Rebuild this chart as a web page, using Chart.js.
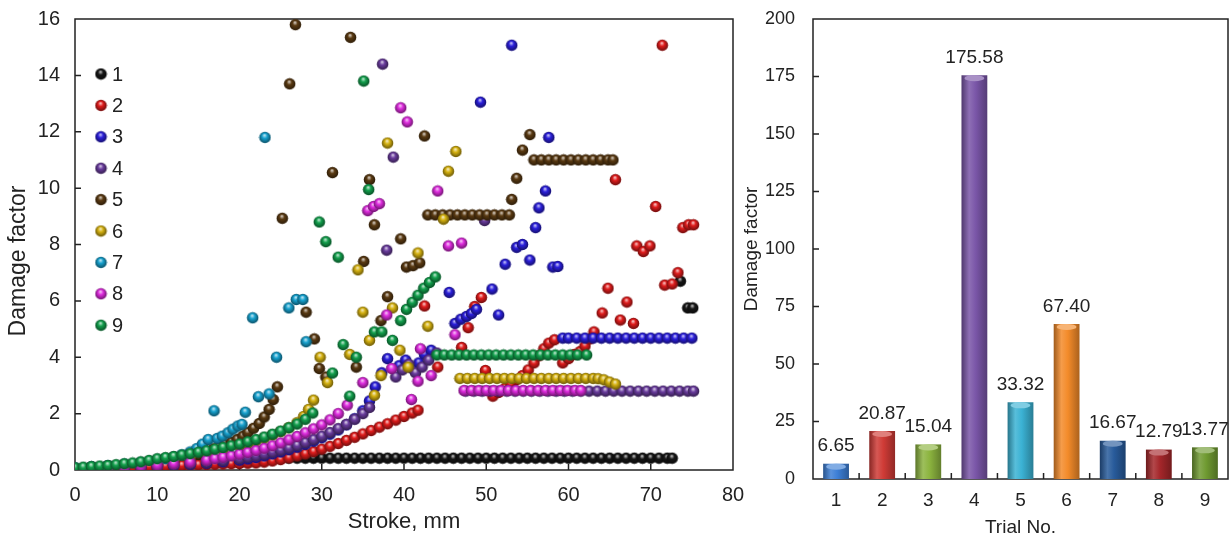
<!DOCTYPE html>
<html>
<head>
<meta charset="utf-8">
<script src="https://cdn.jsdelivr.net/npm/chart.js@4.4.0/dist/chart.umd.min.js"></script>
<style>
html, body { margin: 0; padding: 0; background: #fff; }
#wrap { position: relative; width: 1229px; height: 541px; overflow: hidden; }
#c1 { position: absolute; left: 0; top: 0; }
#c2 { position: absolute; left: 738px; top: 0; }
</style>
</head>
<body>
<div id="wrap">
  <canvas id="c1" width="760" height="541"></canvas>
  <canvas id="c2" width="491" height="541"></canvas>
</div>
<script>
// ---- left panel: damage factor vs stroke, one array per trial ----
const s1 = [
  [0,0.05],[1,0.06],[2,0.07],[3,0.08],[4,0.09],[5,0.1],[6,0.11],[7,0.12],[8,0.13],[9,0.14],
  [10,0.15],[11,0.16],[12,0.17],[13,0.18],[14,0.2],[15,0.22],[16,0.24],[17,0.26],[18,0.28],[19,0.3],
  [20,0.32],[21,0.35],[22,0.38],[23,0.41],[24,0.42],[25,0.42],[26,0.42],[27,0.42],[28,0.42],[29,0.42],
  [30,0.42],[31,0.42],[32,0.42],[33,0.42],[34,0.42],[35,0.42],[36,0.42],[37,0.42],[38,0.42],[39,0.42],
  [40,0.42],[41,0.42],[42,0.42],[43,0.42],[44,0.42],[45,0.42],[46,0.42],[47,0.42],[48,0.42],[49,0.42],
  [50,0.42],[51,0.42],[52,0.42],[53,0.42],[54,0.42],[55,0.42],[56,0.42],[57,0.42],[58,0.42],[59,0.42],
  [60,0.42],[61,0.42],[62,0.42],[63,0.42],[64,0.42],[65,0.42],[66,0.42],[67,0.42],[68,0.42],[69,0.42],
  [70,0.42],[71,0.42],[72,0.42],[72.6,0.42],
  [73.6,6.7],[74.5,5.75],[75.1,5.75]
];
const s2 = [
  [0,0.03],[1,0.04],[2,0.05],[3,0.06],[4,0.07],[5,0.08],[6,0.09],[7,0.1],[8,0.11],[9,0.12],
  [10,0.13],[11,0.14],[12,0.15],[13,0.16],[14,0.17],[15,0.18],[16,0.19],[17,0.2],[18,0.21],[19,0.22],
  [20,0.23],[21,0.24],[22,0.25],[23,0.28],[24,0.32],[25,0.37],[26,0.43],[27,0.5],[28,0.57],[29,0.65],
  [30,0.74],[31,0.84],[32,0.94],[33,1.05],[34,1.16],[35,1.28],[36,1.4],[37,1.52],[38,1.64],[39,1.77],
  [40,1.9],[41,2.02],[41.7,2.12],
  [42.5,5.82],[44.1,3.65],[47,4.35],[47.8,5.05],[48.6,5.8],[49.4,6.12],[49.9,3.53],
  [50.8,2.62],[51.5,2.75],[52.3,2.9],[53,3.05],[53.7,3.2],[54.4,3.35],[55.1,3.55],[55.8,3.8],
  [56.4,4.05],[57,4.3],[57.6,4.5],[58.3,4.62],
  [59.3,3.8],[60,3.95],[60.7,4.1],[61.4,4.2],[62,4.4],[62.6,4.65],[63.1,4.9],
  [64.1,5.57],[64.8,6.45],[65.7,10.3],[66.3,5.32],[67.1,5.96],[67.9,5.2],[68.3,7.95],[69.1,7.75],
  [69.9,7.95],[70.6,9.35],[71.4,15.07],[71.7,6.56],[72.6,6.6],[73.3,7.0],[73.9,8.6],[74.6,8.7],[75.2,8.7]
];
const s3 = [
  [0,0.03],[2,0.05],[4,0.07],[6,0.09],[8,0.11],[10,0.14],[12,0.17],[14,0.2],[16,0.24],[18,0.29],
  [20,0.35],[21,0.39],[22,0.44],[23,0.5],[24,0.57],[25,0.64],[26,0.72],[27,0.81],[28,0.91],[29,1.02],
  [30,1.14],[31,1.27],[32,1.42],[33,1.6],[34,1.82],[35,2.1],[35.8,2.45],[36.5,2.95],[37.3,3.45],[38,3.95],
  [39.4,3.7],[40.2,3.9],[41,3.6],[41.8,3.8],[42.5,4.1],[43.3,4.25],[45.5,6.3],[46.2,5.2],[46.9,5.35],
  [47.6,5.45],[48.2,5.55],[48.8,5.7],[49.3,13.05],[50.7,6.42],[51.5,5.5],[52.3,7.3],[53.1,15.07],
  [53.7,7.9],[54.4,8.0],[55.3,7.45],[56,8.6],[56.4,9.3],[57.2,9.9],[57.6,11.8],[58.1,7.2],[58.7,7.22],
  [59.3,4.68],[60,4.68],[61,4.68],[62,4.68],[63,4.68],[64,4.68],[65,4.68],[66,4.68],[67,4.68],
  [68,4.68],[69,4.68],[70,4.68],[71,4.68],[72,4.68],[73,4.68],[74,4.68],[75,4.68]
];
const s4 = [
  [0,0.03],[2,0.05],[4,0.07],[6,0.09],[8,0.12],[10,0.15],[12,0.18],[14,0.22],[16,0.27],[18,0.33],
  [20,0.4],[21,0.45],[22,0.5],[23,0.56],[24,0.63],[25,0.7],[26,0.78],[27,0.87],[28,0.97],[29,1.08],
  [30,1.2],[31,1.33],[32,1.47],[33,1.62],[34,1.8],[35,2.0],[35.8,2.22],
  [37.4,14.4],[38.7,11.1],[37.9,7.8],[39,3.3],[39.8,3.55],[40.6,3.75],[41.4,3.45],[42.2,3.65],
  [43,3.9],[44,4.15],[49.8,8.85],
  [47.5,2.8],[48.5,2.8],[49.5,2.8],[50.5,2.8],[51.5,2.8],[52.5,2.8],[53.5,2.8],[54.5,2.8],[55.5,2.8],
  [56.5,2.8],[57.5,2.8],[58.5,2.8],[59.5,2.8],[60.5,2.8],[61.5,2.8],[62.5,2.8],[63.5,2.8],[64.5,2.8],
  [65.5,2.8],[66.5,2.8],[67.5,2.8],[68.5,2.8],[69.5,2.8],[70.5,2.8],[71.5,2.8],[72.5,2.8],[73.5,2.8],
  [74.5,2.8],[75.2,2.8]
];
const s5 = [
  [0,0.04],[2,0.06],[4,0.08],[6,0.1],[8,0.14],[10,0.2],[12,0.3],[14,0.45],[15,0.55],[16,0.65],
  [16.8,0.75],[17.5,0.82],[18.2,0.9],[19,0.98],[19.7,1.08],[20.4,1.2],[21,1.33],[21.7,1.48],[22.4,1.65],
  [23,1.88],[23.6,2.15],[24.1,2.5],[24.6,2.95],
  [25.2,8.93],[26.1,13.7],[26.8,15.8],[28.1,5.6],[29.1,4.65],[29.7,3.6],[30.5,3.3],[31.3,10.55],
  [33.5,15.35],[34.2,3.65],[35.1,7.4],[35.8,10.3],[36.4,8.7],[37.2,5.3],[38,6.15],[39.6,8.2],
  [40.3,7.2],[41.1,7.25],[41.9,7.35],[42.5,11.85],
  [42.9,9.05],[43.8,9.05],[44.7,9.05],[45.6,9.05],[46.5,9.05],[47.4,9.05],[48.3,9.05],[49.2,9.05],
  [50.1,9.05],[51,9.05],[51.9,9.05],[52.8,9.05],
  [53.1,9.6],[53.7,10.35],[54.4,11.35],[55.3,11.9],
  [55.8,11.0],[56.7,11.0],[57.6,11.0],[58.5,11.0],[59.4,11.0],[60.3,11.0],[61.2,11.0],[62.1,11.0],
  [63,11.0],[63.9,11.0],[64.8,11.0],[65.4,11.0]
];
const s6 = [
  [0,0.06],[2,0.1],[4,0.14],[6,0.19],[8,0.25],[10,0.32],[12,0.4],[14,0.5],[16,0.6],[18,0.72],
  [20,0.86],[21,0.94],[22,1.03],[23,1.13],[24,1.24],[25,1.36],[26,1.5],[27,1.68],[27.8,1.9],[28.4,2.15],
  [29,2.48],
  [29.8,4.0],[30.7,3.1],[33.4,4.1],[34.4,7.1],[35,5.6],[35.8,4.6],[36.4,2.65],[37.2,3.35],[38,11.6],
  [38.6,5.75],[39.5,4.25],[40.5,3.65],[41.7,7.7],[42.9,5.1],[44.8,8.9],[45.4,10.6],[46.3,11.3],
  [46.8,3.25],[47.7,3.25],[48.6,3.25],[49.5,3.25],[50.4,3.25],[51.3,3.25],[52.2,3.25],[53.1,3.25],
  [54,3.25],[54.9,3.25],[55.8,3.25],[56.7,3.25],[57.6,3.25],[58.5,3.25],[59.4,3.25],[60.3,3.25],
  [61.2,3.25],[62.1,3.25],[63,3.25],[63.6,3.24],[64.3,3.2],[65,3.12],[65.7,3.05]
];
const s7 = [
  [0,0.08],[2,0.12],[4,0.16],[6,0.21],[8,0.27],[10,0.35],[11,0.4],[12,0.46],[13,0.54],[14,0.64],
  [14.8,0.76],[15.5,0.92],[16.2,1.08],[17.3,1.12],[17.9,1.2],[18.6,1.32],[19.2,1.45],[19.8,1.56],[20.3,1.62],
  [16.9,2.1],[20.7,2.05],[21.6,5.4],[22.3,2.6],[23.1,11.8],[23.6,2.7],[24.5,4.0],[26,5.75],[26.9,6.05],
  [27.7,6.05],[28.1,4.55]
];
const s8 = [
  [0,0.03],[2,0.05],[4,0.07],[6,0.1],[8,0.13],[10,0.17],[12,0.22],[14,0.28],[16,0.35],[17,0.4],
  [18,0.45],[19,0.5],[20,0.56],[21,0.62],[22,0.69],[23,0.77],[24,0.86],[25,0.96],[26,1.07],[27,1.19],
  [28,1.32],[29,1.46],[30,1.6],[31,1.78],[32,2.0],[33.1,2.3],
  [35,3.1],[35.6,9.2],[36.3,9.35],[37,9.45],[37.9,5.5],[38.5,3.6],[39.6,12.85],[40.4,12.35],[40.9,2.5],
  [41.7,3.15],[42,4.3],[43.3,3.35],[44.1,9.9],[45.4,7.95],[46.2,4.8],[47,8.05],
  [47.3,2.82],[48.2,2.82],[49.1,2.82],[50,2.82],[50.9,2.82],[51.8,2.82],[52.7,2.82],[53.6,2.82],
  [54.5,2.82],[55.4,2.82],[56.3,2.82],[57.2,2.82],[58.1,2.82],[59,2.82],[59.9,2.82],[60.8,2.82],[61.5,2.82]
];
const s9 = [
  [0,0.08],[1,0.1],[2,0.12],[3,0.14],[4,0.16],[5,0.19],[6,0.22],[7,0.25],[8,0.29],[9,0.34],
  [10,0.4],[11,0.44],[12,0.48],[13,0.53],[14,0.58],[15,0.63],[16,0.68],[17,0.74],[18,0.8],[19,0.86],
  [20,0.92],[21,1.0],[22,1.08],[23,1.17],[24,1.27],[25,1.38],[26,1.5],[27,1.63],[28,1.8],[28.9,2.02],
  [29.7,8.8],[30.5,8.1],[31.3,3.44],[32,7.55],[32.6,4.45],[33.4,2.62],[34.2,4.0],[35.1,13.8],[35.7,9.95],
  [36.4,4.9],[37.3,4.9],[38.6,4.6],[39.6,5.3],[40.3,5.7],[41,5.95],[41.7,6.2],[42.4,6.45],[43.1,6.65],
  [43.8,6.85],
  [44,4.08],[44.9,4.08],[45.8,4.08],[46.7,4.08],[47.6,4.08],[48.5,4.08],[49.4,4.08],[50.3,4.08],
  [51.2,4.08],[52.1,4.08],[53,4.08],[53.9,4.08],[54.8,4.08],[55.7,4.08],[56.6,4.08],[57.5,4.08],
  [58.4,4.08],[59.3,4.08],[60.2,4.08],[61.1,4.08],[62.2,4.08]
];
const trialSeries = [s1, s2, s3, s4, s5, s6, s7, s8, s9];
const trialLabels = ['1', '2', '3', '4', '5', '6', '7', '8', '9'];
const ballColors = ['#161616', '#e01c1c', '#2b1fdc', '#6a3c9e', '#5a3a12', '#d6b211', '#17a2cf', '#df2cdf', '#13a04d'];

// ---- right panel: damage factor per trial ----
const trialNo = ['1', '2', '3', '4', '5', '6', '7', '8', '9'];
const damage = [6.65, 20.87, 15.04, 175.58, 33.32, 67.40, 16.67, 12.79, 13.77];
const barColors = ['#3d7fd6', '#cf3b36', '#8cb43f', '#7a56a8', '#3bb2d4', '#f38b2a', '#285b9b', '#a4262a', '#6f9a31'];

const FONT = 'Liberation Sans, Arial, sans-serif';
const INK = '#222';

function mix(hex, to, t) {
  const n = parseInt(hex.slice(1), 16);
  const r = (n >> 16) & 255, g = (n >> 8) & 255, b = n & 255;
  const f = c => Math.round(c + (to - c) * t);
  return `rgb(${f(r)},${f(g)},${f(b)})`;
}

// small shaded sphere used as point marker
function ball(col) {
  const c = document.createElement('canvas');
  c.width = 13; c.height = 13;
  const g = c.getContext('2d');
  const grd = g.createRadialGradient(6, 4.2, 0.4, 6.5, 6.5, 6.4);
  grd.addColorStop(0, mix(col, 255, 0.7));
  grd.addColorStop(0.35, col);
  grd.addColorStop(0.85, mix(col, 0, 0.45));
  grd.addColorStop(1, mix(col, 0, 0.2));
  g.fillStyle = grd;
  g.beginPath(); g.arc(6.5, 6.5, 5.8, 0, Math.PI * 2); g.fill();
  return c;
}
const balls = ballColors.map(ball);

// fixed axis sizes so the plot box lands where the original one is
const fixY = w => s => { s.width = w; s.paddingTop = 0; s.paddingBottom = 0; };
const fixX = h => s => { s.height = h; s.paddingLeft = 0; s.paddingRight = 0; };

// box round the plot plus short inward tick marks
function frameTicks(xTicks, yTicks) {
  return {
    id: 'frameTicks',
    beforeDatasetsDraw(chart) {
      const { ctx, chartArea: a, scales } = chart;
      ctx.save();
      ctx.strokeStyle = INK;
      ctx.lineWidth = 1.5;
      ctx.strokeRect(a.left, a.top, a.right - a.left, a.bottom - a.top);
      ctx.beginPath();
      xTicks(scales.x).forEach(px => { ctx.moveTo(px, a.bottom); ctx.lineTo(px, a.bottom - 6); });
      yTicks(scales.y).forEach(py => { ctx.moveTo(a.left, py); ctx.lineTo(a.left + 6, py); });
      ctx.stroke();
      ctx.restore();
    }
  };
}

const innerLegend = {
  id: 'innerLegend',
  afterDatasetsDraw(chart) {
    const ctx = chart.ctx;
    ctx.save();
    ctx.font = '20px ' + FONT;
    ctx.fillStyle = INK;
    ctx.textBaseline = 'middle';
    trialLabels.forEach((lab, i) => {
      const y = 74 + i * 31.4;
      ctx.drawImage(balls[i], 101 - 6.5, y - 6.5);
      ctx.fillText(lab, 112, y + 1);
    });
    // rotated y title, sits a bit below the plot centre in the original
    ctx.font = '23px ' + FONT;
    ctx.translate(19, 261);
    ctx.rotate(-Math.PI / 2);
    ctx.textAlign = 'center';
    ctx.fillText('Damage factor', 0, 0);
    ctx.restore();
  }
};

new Chart(document.getElementById('c1'), {
  type: 'scatter',
  data: {
    datasets: trialSeries.map((s, i) => ({
      label: trialLabels[i],
      data: s.map(p => ({ x: p[0], y: p[1] })),
      pointStyle: balls[i],
      pointRadius: 6,
      order: 8 - i
    }))
  },
  options: {
    responsive: false,
    animation: false,
    events: [],
    layout: { padding: { top: 19, right: 27, left: 0, bottom: 0 } },
    plugins: { legend: { display: false }, tooltip: { enabled: false } },
    scales: {
      x: {
        type: 'linear', min: 0, max: 80,
        afterFit: fixX(71),
        grid: { display: false, drawTicks: false },
        border: { display: false },
        ticks: { stepSize: 10, padding: 13, color: INK, font: { family: FONT, size: 20 } },
        title: { display: true, text: 'Stroke, mm', color: INK, font: { family: FONT, size: 22 }, padding: { top: 0, bottom: 6 } }
      },
      y: {
        min: 0, max: 16,
        afterFit: fixY(75),
        grid: { display: false, drawTicks: false },
        border: { display: false },
        ticks: { stepSize: 2, padding: 15, color: INK, font: { family: FONT, size: 20 } },
        title: { display: false }
      }
    }
  },
  plugins: [
    frameTicks(
      x => [10, 20, 30, 40, 50, 60, 70].map(v => x.getPixelForValue(v)),
      y => [2, 4, 6, 8, 10, 12, 14].map(v => y.getPixelForValue(v))
    ),
    innerLegend
  ]
});

const barLabels = {
  id: 'barLabels',
  afterDatasetsDraw(chart) {
    const ctx = chart.ctx;
    ctx.save();
    chart.getDatasetMeta(0).data.forEach((el, i) => {
      // lighter rounded cap on top of each bar
      const half = el.width / 2;
      ctx.fillStyle = mix(barColors[i], 255, 0.35);
      ctx.beginPath();
      ctx.ellipse(el.x, el.y + 3, half - 3, 3, 0, 0, Math.PI * 2);
      ctx.fill();
    });
    ctx.font = '19px ' + FONT;
    ctx.fillStyle = INK;
    ctx.textAlign = 'center';
    ctx.textBaseline = 'bottom';
    chart.getDatasetMeta(0).data.forEach((el, i) => {
      ctx.fillText(damage[i].toFixed(2), el.x, el.y - 8);
    });
    ctx.restore();
  }
};

new Chart(document.getElementById('c2'), {
  type: 'bar',
  data: {
    labels: trialNo,
    datasets: [{
      data: damage,
      barPercentage: 0.56,
      categoryPercentage: 1,
      backgroundColor: c => {
        const base = barColors[c.dataIndex] || barColors[0];
        const xs = c.chart.scales.x;
        if (!xs || c.dataIndex === undefined) return base;
        const cx = xs.getPixelForValue(c.dataIndex);
        if (!isFinite(cx)) return base;
        const g = c.chart.ctx.createLinearGradient(cx - 13, 0, cx + 13, 0);
        g.addColorStop(0, mix(base, 0, 0.35));
        g.addColorStop(0.3, mix(base, 255, 0.15));
        g.addColorStop(0.55, base);
        g.addColorStop(1, mix(base, 0, 0.3));
        return g;
      },
      borderWidth: 0
    }]
  },
  options: {
    responsive: false,
    animation: false,
    events: [],
    layout: { padding: { top: 19, right: 1, left: 0, bottom: 0 } },
    plugins: { legend: { display: false }, tooltip: { enabled: false } },
    scales: {
      x: {
        afterFit: fixX(62),
        grid: { display: false, drawTicks: false },
        border: { display: false },
        ticks: { padding: 10, color: INK, font: { family: FONT, size: 19 } },
        title: { display: true, text: 'Trial No.', color: INK, font: { family: FONT, size: 19 }, padding: { top: 0, bottom: 2 } }
      },
      y: {
        min: 0, max: 200,
        afterFit: fixY(75),
        grid: { display: false, drawTicks: false },
        border: { display: false },
        ticks: { stepSize: 25, padding: 18, color: INK, font: { family: FONT, size: 18 } },
        title: { display: true, text: 'Damage factor', color: INK, font: { family: FONT, size: 19 }, padding: { top: 2, bottom: 0 } }
      }
    }
  },
  plugins: [
    frameTicks(
      x => trialNo.slice(1).map((t, i) => (x.getPixelForValue(i) + x.getPixelForValue(i + 1)) / 2),
      y => [25, 50, 75, 100, 125, 150, 175].map(v => y.getPixelForValue(v))
    ),
    barLabels
  ]
});
</script>
</body>
</html>
